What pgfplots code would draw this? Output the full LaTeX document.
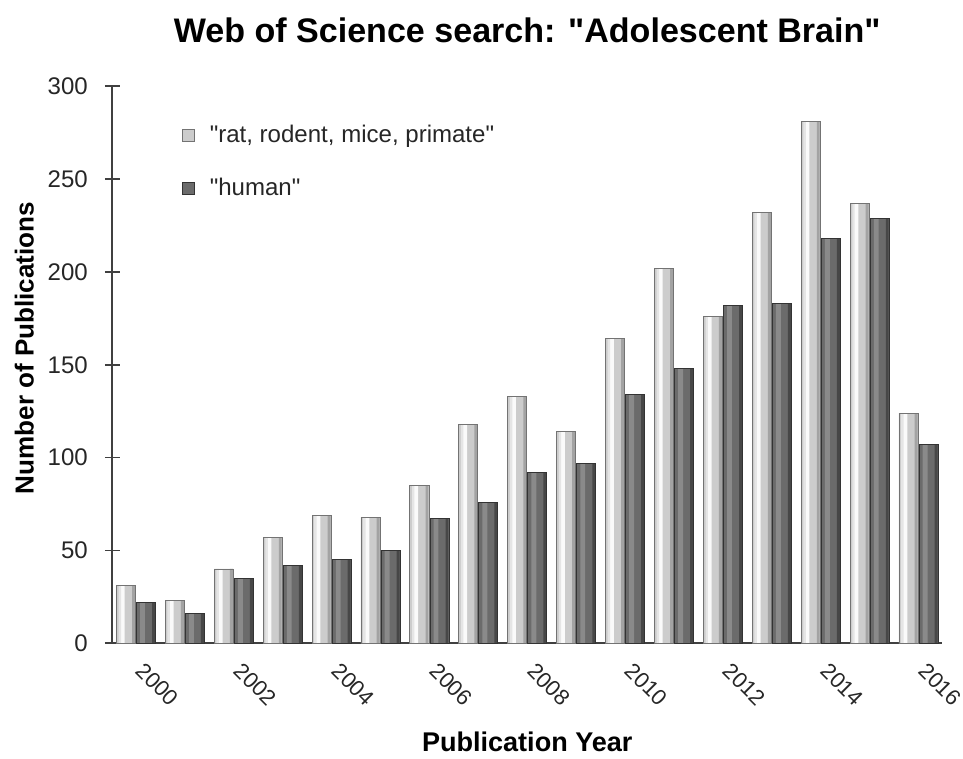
\documentclass[border=0pt]{standalone}
\usepackage{pgfplots}
\pgfplotsset{compat=1.18}
\usepackage{fontspec}
\setmainfont{Liberation Sans}
\pgfplotstableread{
x a b
0 31 22
1 23 16
2 40 35
3 57 42
4 69 45
5 68 50
6 85 67
7 118 76
8 133 92
9 114 97
10 164 134
11 202 148
12 176 182
13 232 183
14 281 218
15 237 229
16 124 107
}\datatable
\begin{document}
\begin{tikzpicture}
\begin{axis}[
  scale only axis, width=414pt, height=278pt,
  xmin=-0.48, xmax=16.48, ymin=0, ymax=300,
  axis x line*=bottom, axis y line*=left,
  axis line style={draw=black!75, line width=1pt, -},
  ybar,
  ytick={0,50,100,150,200,250,300},
  xtick={0,2,4,6,8,10,12,14,16},
  xticklabels={2000,2002,2004,2006,2008,2010,2012,2014,2016},
  /pgf/number format/assume math mode=true,
  ticklabel style={font=\fontsize{12}{14}\selectfont, text=black!85},
  yticklabel style={xshift=-5pt},
  xticklabel style={font=\fontsize{11}{13}\selectfont, inner sep=0pt, yshift=-8pt, xshift=2pt, rotate=-45, anchor=west},
  tick align=center,
  major tick length=7.5pt,
  y tick style={draw=black!75, line width=0.9pt},
  x tick style={draw=none},
  title={\rule{0pt}{18pt}Web of Science search: \textquotedbl Adolescent Brain\textquotedbl},
  title style={font=\fontsize{17}{20}\selectfont\bfseries, at={(0.5,1)}, anchor=south, yshift=12pt},
  xlabel={Publication Year},
  ylabel={\rule{0pt}{13.5pt}Number of Publications},
  label style={font=\fontsize{13}{15}\selectfont\bfseries},
  xlabel style={font=\fontsize{13.5}{15}\selectfont\bfseries, yshift=-9pt},
  ylabel style={at={(ticklabel cs:0.53)}, yshift=0pt},
  legend style={at={(0.076,0.945)}, anchor=north west, draw=none, fill=none,
    font=\fontsize{12}{14}\selectfont, row sep=12pt, column sep=5.5pt, text=black!85},
  legend cell align=left,
  legend image code/.code={\draw[#1] (0pt,-3pt) rectangle (6pt,3pt);},
]
% light series
\addplot[bar width=0.39, bar shift=-0.205, draw=black!55, line width=0.4pt, fill=black!20]
  table[x=x, y=a] {\datatable};
\addlegendentry{\textquotedbl rat, rodent, mice, primate\textquotedbl}
% dark series
\addplot[bar width=0.39, bar shift=0.205, draw=black!80, line width=0.4pt, fill=black!58]
  table[x=x, y=b] {\datatable};
\addlegendentry{\textquotedbl human\textquotedbl}
% cylinder highlights and shadows
\addplot[forget plot, bar width=0.10, bar shift=-0.28, draw=none, fill=black!2] table[x=x, y=a] {\datatable};
\addplot[forget plot, bar width=0.05, bar shift=-0.33, draw=none, fill=black!10] table[x=x, y=a] {\datatable};
\addplot[forget plot, bar width=0.06, bar shift=-0.05, draw=none, fill=black!36] table[x=x, y=a] {\datatable};
\addplot[forget plot, bar width=0.10, bar shift=0.135, draw=none, fill=black!46] table[x=x, y=b] {\datatable};
\addplot[forget plot, bar width=0.06, bar shift=0.36, draw=none, fill=black!72] table[x=x, y=b] {\datatable};
% outlines
\addplot[forget plot, bar width=0.39, bar shift=-0.205, draw=black!55, line width=0.4pt, fill=none] table[x=x, y=a] {\datatable};
\addplot[forget plot, bar width=0.39, bar shift=0.205, draw=black!80, line width=0.4pt, fill=none] table[x=x, y=b] {\datatable};
\end{axis}
\end{tikzpicture}
\end{document}
